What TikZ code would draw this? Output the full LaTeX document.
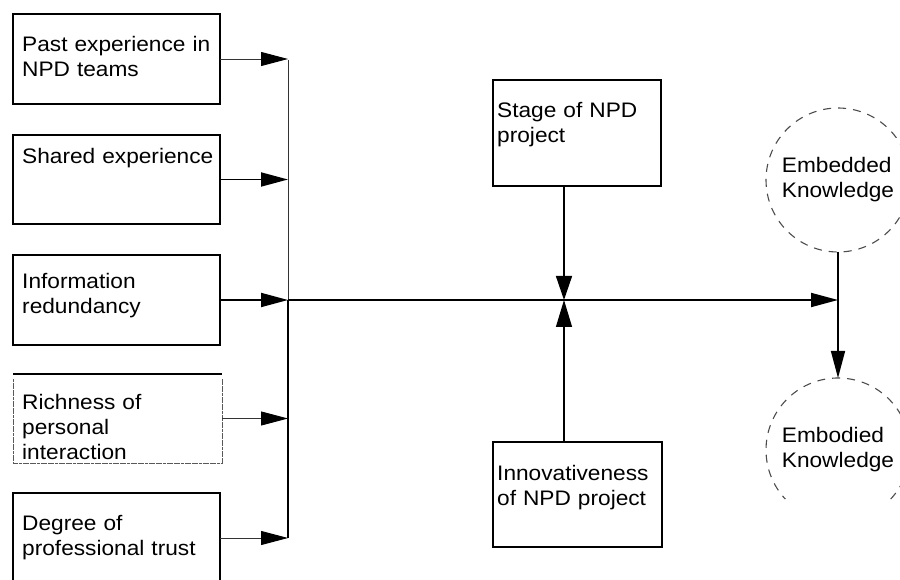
\documentclass[tikz,border=0pt]{standalone}
\usepackage{fontspec}
\setmainfont{Liberation Sans}[FakeStretch=1.08]
\usetikzlibrary{arrows.meta}
\begin{document}
\begin{tikzpicture}[x=1pt,y=1pt,
  box/.style={draw=black, line width=1.6pt, inner sep=0pt, outer sep=0pt},
  lbl/.style={anchor=base west, inner sep=0pt, text width=220pt, align=left,
    font=\fontsize{21}{25}\selectfont, text=black},
  knot/.style={circle, minimum size=144pt, inner sep=0pt, outer sep=0pt,
    align=left, font=\fontsize{21}{25}\selectfont, text=black},
  dashring/.style={draw=black!70, line width=1.1pt, dash pattern=on 8pt off 7pt},
  tip/.style={-{Triangle[length=27pt,width=14pt,color=black]}},
  thinline/.style={line width=0.9pt, black!80},
  thickline/.style={line width=1.8pt, black}]
\useasboundingbox (0,0) rectangle (900,579);

% antecedent boxes on the left
\node[box, minimum width=207pt, minimum height=90pt] (b1) at (116.5,520) {};
\node[box, minimum width=207pt, minimum height=89pt] (b2) at (116.5,399.5) {};
\node[box, minimum width=207pt, minimum height=90pt] (b3) at (116.5,279) {};
\node[inner sep=0pt, outer sep=0pt, minimum width=209pt, minimum height=89pt] (b4) at (117.5,160.5) {};
\draw[line width=1.6pt] (b4.north west) -- (b4.north east);
\draw[line width=0.8pt, black!65, dash pattern=on 3pt off 0.6pt]
  ([yshift=-5pt]b4.north west) -- (b4.south west) -- (b4.south east) -- ([yshift=-5pt]b4.north east);
\node[box, minimum width=207pt, minimum height=90pt] (b5) at (116.5,41) {};

\node[lbl] (t1) at (22,527) {Past experience in\\NPD teams};
\node[lbl] (t2) at (22,415) {Shared experience};
\node[lbl] (t3) at (22,290) {Information\\redundancy};
\node[lbl] (t4) at (22,169) {Richness of\\personal\\interaction};
\node[lbl] (t5) at (22,49) {Degree of\\professional trust};

% collecting bus
\coordinate (btop) at (288,519);
\coordinate (hub) at (288,279);
\coordinate (bbot) at (288,41);
\draw[thinline] (btop) -- (hub);
\draw[thickline] (hub) -- (bbot);

\draw[thinline, tip] (b1.east) -- (b1.east -| hub);
\draw[thickline, tip] (b2.east) -- (b2.east -| hub);
\draw[thickline, tip] (b3.east) -- (hub);
\draw[thinline, tip] (b4.east) -- (b4.east -| hub);
\draw[thinline, tip] (b5.east) -- (b5.east -| hub);

% moderating boxes
\node[box, minimum width=168pt, minimum height=106pt] (st) at (577,446) {};
\node[lbl] (ts) at (497,461) {Stage of NPD\\project};
\node[box, minimum width=169pt, minimum height=105pt] (inn) at (577.5,84.5) {};
\node[lbl] (ti) at (497,99) {Innovativeness\\of NPD project};

% knowledge outcomes
\node[knot, dashring] (ek) at (838,399) {Embedded\\Knowledge};
\node[knot] (eb) at (838,129) {Embodied\\Knowledge};
\draw[dashring] ([shift={(-43:72pt)}]eb.center) arc (-43:223:72pt);

\coordinate (mid) at (564,279);
\coordinate (join) at (838,279);

\draw[thickline, tip] (hub) -- (join);
\draw[line width=1.5pt, -{Triangle[length=24pt,width=16pt]}] (st.south -| mid) -- (mid);
\draw[line width=1.2pt, -{Triangle[length=27pt,width=16pt]}] (inn.north -| mid) -- (mid);
\draw[line width=1.5pt, tip] (ek.south) -- (eb.north);
\end{tikzpicture}
\end{document}
